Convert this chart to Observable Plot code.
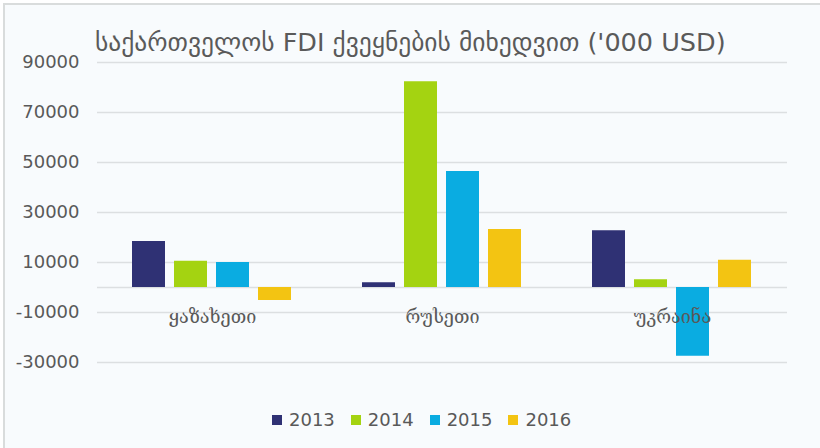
<!DOCTYPE html>
<html>
<head>
<meta charset="utf-8">
<script src="https://cdn.jsdelivr.net/npm/d3@7"></script>
<script src="https://cdn.jsdelivr.net/npm/@observablehq/plot@0.6"></script>
<style>
  html, body { margin: 0; padding: 0; background: #ffffff; }
  #wrap { position: absolute; left: 0; top: 0; width: 820px; height: 448px; overflow: hidden; }
  #panel { position: absolute; left: 3px; top: 3px; right: 0; bottom: 0; border-left: 2px solid #d9dcdc; border-top: 2px solid #d9dcdc; background: #f8fbfd; }
  #title { position: absolute; left: 95px; top: 27px; font-family: "DejaVu Sans", sans-serif; font-size: 25.5px; color: #5a5a5a; white-space: nowrap; }
  #chart { position: absolute; left: 0; top: 50px; }
  #legend { position: absolute; left: 272px; top: 409px; display: flex; align-items: center; font-family: "DejaVu Sans", sans-serif; font-size: 18px; color: #595959; }
  #legend .item { display: flex; align-items: center; margin-right: 16px; }
  #legend .sw { width: 10px; height: 10px; margin-right: 7px; }
</style>
</head>
<body>
<div id="wrap">
  <div id="panel"></div>
  <div id="title"></div>
  <div id="chart"></div>
  <div id="legend"></div>
</div>
<script>
const titleText = "საქართველოს FDI ქვეყნების მიხედვით ('000 USD)";
const countries = ["ყაზახეთი", "რუსეთი", "უკრაინა"];
const years = ["2013", "2014", "2015", "2016"];
const values2013 = [18400, 1900, 22700];
const values2014 = [10500, 82300, 3100];
const values2015 = [10000, 46400, -27500];
const values2016 = [-5200, 23200, 10900];
const colors = ["#2f3174", "#a4d311", "#0aace1", "#f3c412"];
const tickValues = [90000, 70000, 50000, 30000, 10000, -10000, -30000];

const series = [values2013, values2014, values2015, values2016];
const data = [];
countries.forEach((c, i) => {
  years.forEach((y, j) => data.push({country: c, year: y, value: series[j][i]}));
});

document.getElementById("title").textContent = titleText;

const chart = Plot.plot({
  width: 820,
  height: 340,
  marginLeft: 96,
  marginRight: 32,
  marginTop: 12,
  marginBottom: 28,
  style: {background: "transparent", fontFamily: "DejaVu Sans, sans-serif", fontSize: "18px", color: "#595959"},
  fx: {domain: countries, padding: 0, axis: null},
  x: {domain: years, paddingInner: 0.21, paddingOuter: 0.8, axis: null},
  y: {domain: [-30000, 90000], axis: null},
  color: {domain: years, range: colors},
  marks: [
    Plot.ruleY(tickValues.concat([0]), {stroke: "#dcdfe1", strokeWidth: 1.4}),
    Plot.axisY({ticks: tickValues, tickSize: 0, tickPadding: 18, label: null, tickFormat: d => String(d), fontSize: 18, fill: "#595959"}),
    Plot.barY(data, {fx: "country", x: "year", y: "value", fill: "year", inset: 0}),
    Plot.text(countries, {fx: d => d, y: 0, text: d => d, dy: 30, fontSize: 18, fill: "#595959", fontFamily: "DejaVu Serif, serif"})
  ]
});
document.getElementById("chart").appendChild(chart);

const legend = document.getElementById("legend");
years.forEach((y, i) => {
  const item = document.createElement("div");
  item.className = "item";
  const sw = document.createElement("div");
  sw.className = "sw";
  sw.style.background = colors[i];
  const t = document.createElement("span");
  t.textContent = y;
  item.appendChild(sw);
  item.appendChild(t);
  legend.appendChild(item);
});
</script>
</body>
</html>
